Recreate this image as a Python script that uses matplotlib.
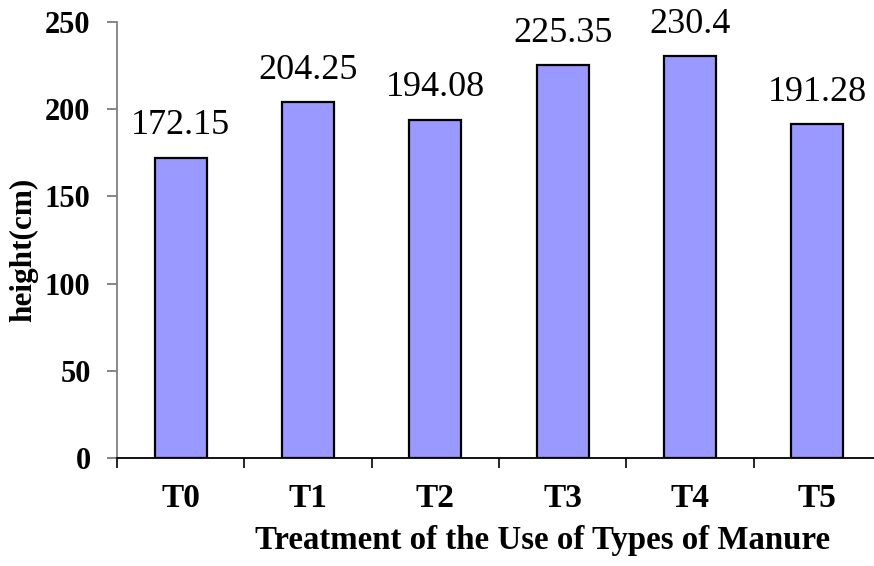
import matplotlib
matplotlib.use("Agg")
import matplotlib.pyplot as plt
import numpy as np

categories = ["T0", "T1", "T2", "T3", "T4", "T5"]
heights = [172.15, 204.25, 194.08, 225.35, 230.4, 191.28]
value_labels = ["172.15", "204.25", "194.08", "225.35", "230.4", "191.28"]
yticks = [0, 50, 100, 150, 200, 250]

plt.rcParams['font.family'] = ['Liberation Serif', 'DejaVu Serif']

fig = plt.figure(figsize=(8.74, 5.66), dpi=100)
ax = fig.add_axes([117/874, 1 - 458/566, (881 - 117)/874, (458 - 22)/566])

x = np.arange(len(categories))
bars = ax.bar(x, heights, width=0.41, color="#9999FF", edgecolor="black", linewidth=1.6, zorder=3)

for xi, h, lab in zip(x, heights, value_labels):
    ax.annotate(lab, (xi, h), xytext=(0, 11), textcoords="offset points",
                ha="center", va="bottom", fontsize=26)

ax.set_xlim(-0.5, len(categories) - 0.5)
ax.set_ylim(0, 250)
ax.set_yticks(yticks)
ax.set_yticklabels([str(t) for t in yticks], fontsize=22, fontweight="bold")
ax.set_xticks(x)
ax.set_xticklabels(categories, fontsize=24, fontweight="bold")
ax.set_xticks(np.arange(-0.5, len(categories)), minor=True)
ax.tick_params(axis="x", which="major", length=0, pad=18)
ax.tick_params(axis="x", which="minor", length=7, width=1.2, color="black", direction="out")
ax.tick_params(axis="y", length=7, width=1.2, color="#707070", direction="out", pad=12)

for s in ["top", "right"]:
    ax.spines[s].set_visible(False)
ax.spines["left"].set_color("#808080")
ax.spines["left"].set_linewidth(1.3)
ax.spines["bottom"].set_color("black")
ax.spines["bottom"].set_linewidth(1.3)

ax.set_ylabel("height(cm)", fontsize=22.5, fontweight="bold")
ax.yaxis.set_label_coords(-(117 - 38)/764, 0.478)
fig.text(543/874, 1 - 541/566, "Treatment of the Use of Types of Manure",
         ha="center", va="center", fontsize=23.7, fontweight="bold")

fig.savefig("out.png", dpi=100)
